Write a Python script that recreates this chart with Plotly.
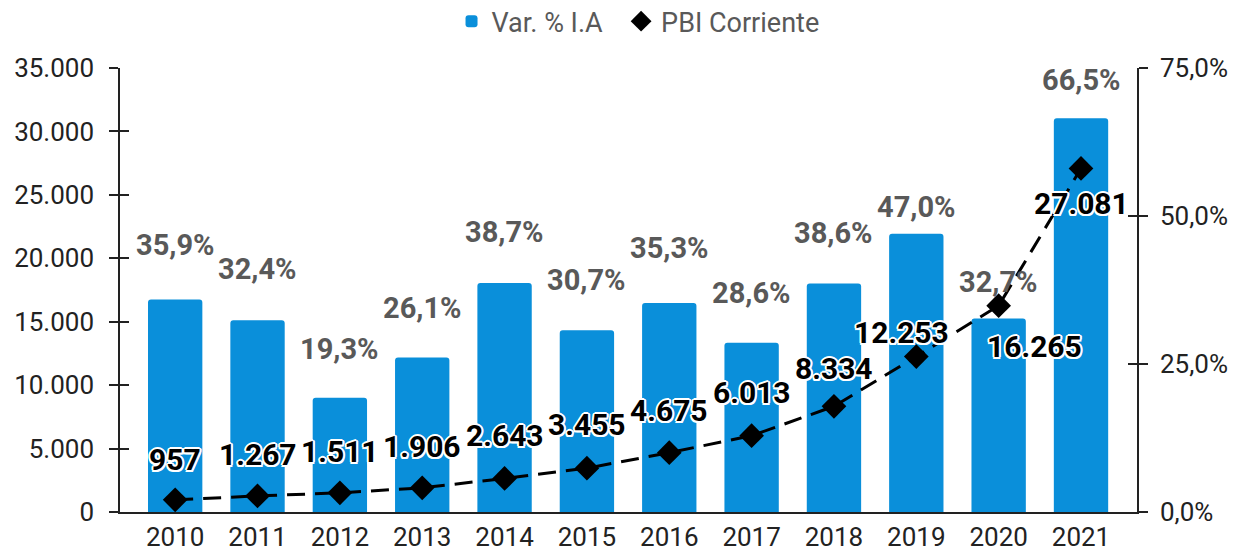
import plotly.graph_objects as go

years = ["2010", "2011", "2012", "2013", "2014", "2015", "2016", "2017", "2018", "2019", "2020", "2021"]
var_pct = [35.9, 32.4, 19.3, 26.1, 38.7, 30.7, 35.3, 28.6, 38.6, 47.0, 32.7, 66.5]
pbi = [957, 1267, 1511, 1906, 2643, 3455, 4675, 6013, 8334, 12253, 16265, 27081]
left_ticks = [0, 5000, 10000, 15000, 20000, 25000, 30000, 35000]
right_ticks = [0, 25, 50, 75]

# label offsets (styling only)
pct_yshift = [54, 51, 49, 49, 51, 50, 55, 50, 50, 27, 36, 38]
pbi_yshift = [40, 41, 41, 41, 43, 44, 42, 43, 38, 24, -41, -35]
pbi_xshift = [0, 0, 0, 0, 0, 0, 0, 0, 0, -15, 36, 0]

BLUE = "#0A8FDA"
GREY = "#595959"
AXIS = "#222222"
FONT = "Roboto"

def fmt_pct(v):
    return f"{v:.1f}".replace(".", ",") + "%"

def fmt_int(v):
    return f"{v:,}".replace(",", ".")

fig = go.Figure()

fig.add_trace(go.Bar(
    x=years, y=var_pct, name="Var. % I.A&nbsp;&nbsp;", yaxis="y",
    marker=dict(color=BLUE, line=dict(width=0)), width=0.66,
))
fig.add_trace(go.Scatter(
    x=years, y=pbi, mode="lines", yaxis="y2", showlegend=False,
    line=dict(color="black", width=3, dash="18px,10px"),
))
fig.add_trace(go.Scatter(
    x=years, y=pbi, mode="markers", yaxis="y2", name="PBI Corriente",
    marker=dict(symbol="diamond", color="black", size=19),
))
# tick-only axes (inside ticks so ticks cross the axis lines)
fig.add_trace(go.Scatter(x=years, y=pbi, yaxis="y3", mode="none", showlegend=False, hoverinfo="skip"))
fig.add_trace(go.Scatter(x=years, y=var_pct, yaxis="y4", mode="none", showlegend=False, hoverinfo="skip"))

outline = ",".join(
    f"white {dx}px {dy}px 0px"
    for dx, dy in [(2, 0), (-2, 0), (0, 2), (0, -2), (1.5, 1.5), (-1.5, 1.5), (1.5, -1.5), (-1.5, -1.5)]
)

annotations = []
for i, (v, ys) in enumerate(zip(var_pct, pct_yshift)):
    annotations.append(dict(
        x=i, y=v, xref="x", yref="y", text="<b>" + fmt_pct(v) + "</b>", showarrow=False,
        yanchor="middle", xanchor="center", yshift=ys,
        font=dict(family=FONT, size=29, color=GREY),
    ))
for i, (v, ys, xs) in enumerate(zip(pbi, pbi_yshift, pbi_xshift)):
    annotations.append(dict(
        x=i, y=v, xref="x", yref="y2", text="<b>" + fmt_int(v) + "</b>", showarrow=False,
        yanchor="middle", xanchor="center", yshift=ys, xshift=xs,
        font=dict(family=FONT, size=30, color="black", shadow=outline),
    ))

fig.update_layout(
    width=1231, height=545,
    margin=dict(l=112, r=102, t=60, b=41),
    paper_bgcolor="white", plot_bgcolor="white",
    font=dict(family=FONT, size=26, color=AXIS),
    barcornerradius=3,
    showlegend=True,
    legend=dict(orientation="h", x=0.3603, xanchor="left", xref="container",
                y=0.975, yref="container", yanchor="middle",
                font=dict(family=FONT, size=27, color=GREY)),
    xaxis=dict(
        type="category", range=[-0.67, 11.68], showgrid=False, zeroline=False,
        showline=True, linecolor=AXIS, linewidth=1.5, ticks="", automargin=False,
        ticklabelstandoff=1,
        tickfont=dict(size=26, color=AXIS),
    ),
    yaxis=dict(
        range=[0, 75], tickvals=right_ticks, ticktext=[fmt_pct(t) for t in right_ticks],
        side="right", showgrid=False, zeroline=False, automargin=False,
        showline=True, linecolor=AXIS, linewidth=1.5,
        ticks="outside", ticklen=9, tickwidth=1.5, tickcolor=AXIS,
        ticklabelstandoff=7,
        tickfont=dict(size=26, color=AXIS),
    ),
    yaxis2=dict(
        range=[0, 35000], tickvals=left_ticks, ticktext=[fmt_int(t) for t in left_ticks],
        overlaying="y", side="left", showgrid=False, zeroline=False, automargin=False,
        showline=True, linecolor=AXIS, linewidth=1.5,
        ticks="outside", ticklen=9, tickwidth=1.5, tickcolor=AXIS,
        ticklabelstandoff=10,
        tickfont=dict(size=26, color=AXIS),
    ),
    yaxis3=dict(
        range=[0, 35000], tickvals=left_ticks, overlaying="y", side="left",
        showticklabels=False, showgrid=False, zeroline=False, showline=False, automargin=False,
        ticks="inside", ticklen=9, tickwidth=1.5, tickcolor=AXIS,
    ),
    yaxis4=dict(
        range=[0, 75], tickvals=right_ticks, overlaying="y", side="right",
        showticklabels=False, showgrid=False, zeroline=False, showline=False, automargin=False,
        ticks="inside", ticklen=9, tickwidth=1.5, tickcolor=AXIS,
    ),
    annotations=annotations,
)

fig.write_html("out.html")
